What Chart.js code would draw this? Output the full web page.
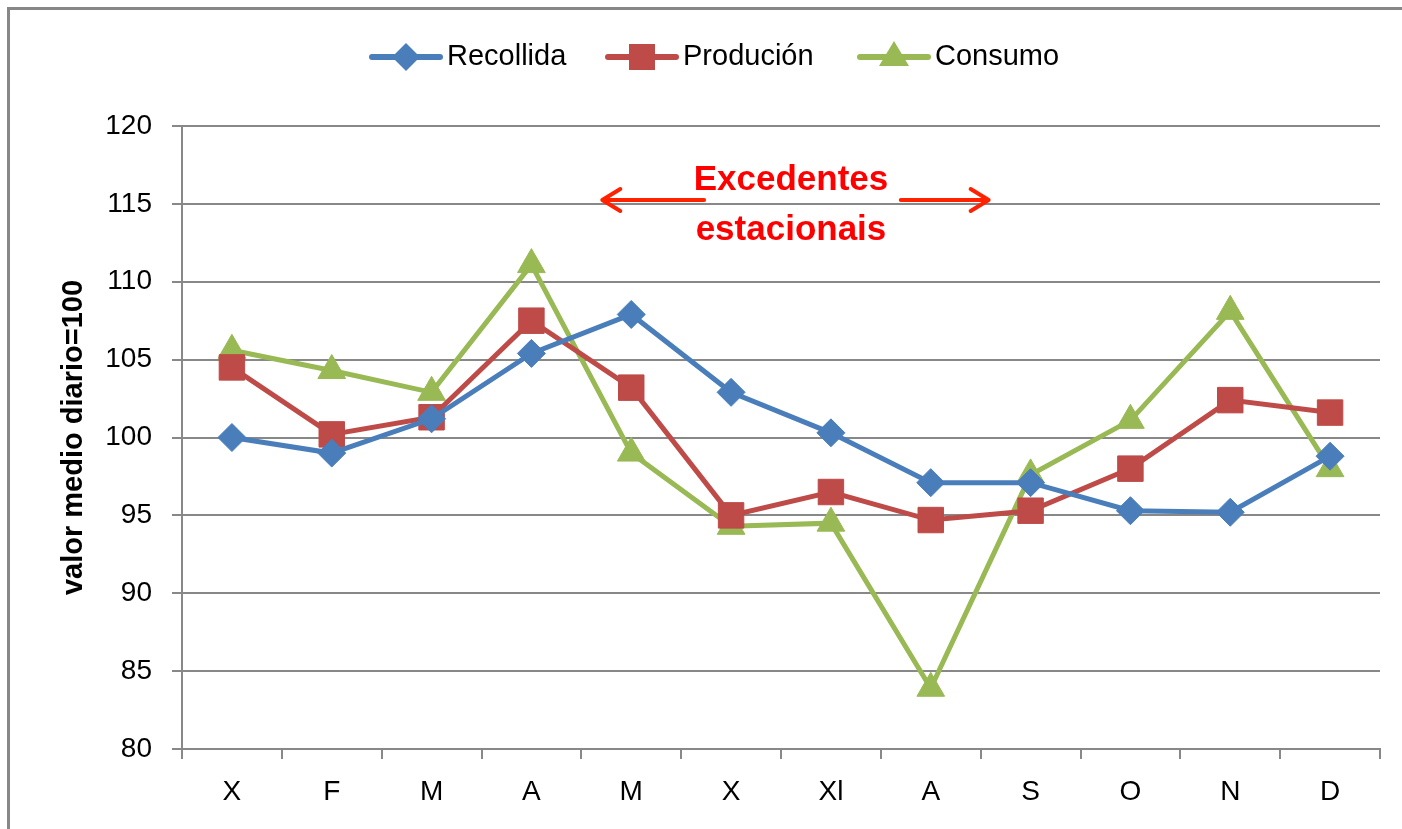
<!DOCTYPE html>
<html>
<head>
<meta charset="utf-8">
<script src="https://cdn.jsdelivr.net/npm/chart.js@4.4.0/dist/chart.umd.min.js"></script>
<style>
  html, body { margin: 0; padding: 0; background: #fff; }
  #wrap { width: 1402px; height: 829px; }
</style>
</head>
<body>
<div id="wrap"><canvas id="grafico"></canvas></div>
<script>
// datos
const meses = ['X', 'F', 'M', 'A', 'M', 'X', 'Xl', 'A', 'S', 'O', 'N', 'D'];
const recollida = [100.0, 99.0, 101.2, 105.4, 107.9, 102.9, 100.3, 97.1, 97.1, 95.3, 95.2, 98.8];
const producion = [104.5, 100.2, 101.3, 107.5, 103.2, 95.0, 96.5, 94.7, 95.3, 98.0, 102.4, 101.6];
const consumo = [105.6, 104.3, 102.9, 111.1, 99.0, 94.3, 94.5, 83.9, 97.6, 101.1, 108.1, 98.0];
const ticksY = [80, 85, 90, 95, 100, 105, 110, 115, 120];

// anotación: posicións en unidades das escalas (índice de categoría, valor)
const textoAnotacion = ['Excedentes', 'estacionais'];
const frechaEsquerda = [3.71, 4.73];
const frechaDereita = [6.70, 7.58];
const centroTexto = 5.6;
const valorFrecha = 115.25;
const valoresTexto = [116.5, 113.3];

const azul = '#4A7EBB';
const vermello = '#BE4B48';
const verde = '#98B954';
const fonte = '"Liberation Sans", Arial, sans-serif';

const marco = {
  id: 'marco',
  beforeDraw(chart) {
    const ctx = chart.ctx;
    ctx.save();
    ctx.strokeStyle = '#878787';
    ctx.lineWidth = 3;
    ctx.strokeRect(8.5, 8.5, chart.width + 20, chart.height + 20);
    ctx.restore();
  }
};

function debuxaMarcador(ctx, estilo, x, y, cor) {
  ctx.fillStyle = cor;
  ctx.beginPath();
  if (estilo === 'rectRot') {
    ctx.moveTo(x, y - 14); ctx.lineTo(x + 14, y); ctx.lineTo(x, y + 14); ctx.lineTo(x - 14, y);
  } else if (estilo === 'rect') {
    ctx.rect(x - 13, y - 13, 26, 26);
  } else {
    ctx.moveTo(x, y - 16); ctx.lineTo(x + 15, y + 9); ctx.lineTo(x - 15, y + 9);
  }
  ctx.closePath();
  ctx.fill();
}

const lenda = {
  id: 'lenda',
  afterDraw(chart) {
    const ctx = chart.ctx;
    const items = [372, 608, 860];
    ctx.save();
    chart.data.datasets.forEach((ds, i) => {
      const x = items[i];
      const y = 57;
      ctx.strokeStyle = ds.borderColor;
      ctx.lineWidth = 6;
      ctx.lineCap = 'round';
      ctx.beginPath();
      ctx.moveTo(x, y);
      ctx.lineTo(x + 68, y);
      ctx.stroke();
      debuxaMarcador(ctx, ds.pointStyle, x + 34, y, ds.borderColor);
      ctx.fillStyle = '#000';
      ctx.font = '29px ' + fonte;
      ctx.textBaseline = 'middle';
      ctx.textAlign = 'left';
      ctx.fillText(ds.label, x + 75, y);
    });
    ctx.restore();
  }
};

const anotacion = {
  id: 'anotacion',
  afterDraw(chart) {
    const ctx = chart.ctx;
    const sx = chart.scales.x;
    const sy = chart.scales.y;
    const yF = sy.getPixelForValue(valorFrecha);
    ctx.save();
    ctx.strokeStyle = '#FF2200';
    ctx.lineWidth = 4;
    ctx.lineCap = 'round';
    ctx.lineJoin = 'round';
    const esq0 = sx.getPixelForValue(frechaEsquerda[0]);
    const esq1 = sx.getPixelForValue(frechaEsquerda[1]);
    const der0 = sx.getPixelForValue(frechaDereita[0]);
    const der1 = sx.getPixelForValue(frechaDereita[1]);
    ctx.beginPath();
    ctx.moveTo(esq1, yF); ctx.lineTo(esq0, yF);
    ctx.moveTo(esq0 + 18, yF - 11); ctx.lineTo(esq0, yF); ctx.lineTo(esq0 + 18, yF + 11);
    ctx.moveTo(der0, yF); ctx.lineTo(der1, yF);
    ctx.moveTo(der1 - 18, yF - 11); ctx.lineTo(der1, yF); ctx.lineTo(der1 - 18, yF + 11);
    ctx.stroke();
    ctx.fillStyle = '#FF0000';
    ctx.font = 'bold 35px ' + fonte;
    ctx.textAlign = 'center';
    ctx.textBaseline = 'middle';
    const cx = sx.getPixelForValue(centroTexto);
    textoAnotacion.forEach((t, i) => {
      ctx.fillText(t, cx, sy.getPixelForValue(valoresTexto[i]));
    });
    ctx.restore();
  }
};

const serie = (label, data, cor, estilo, radio) => ({
  label: label,
  data: data,
  borderColor: cor,
  backgroundColor: cor,
  borderWidth: 5,
  pointStyle: estilo,
  pointRadius: radio,
  pointHoverRadius: radio,
  pointBorderWidth: 1,
  tension: 0,
  clip: false
});

new Chart(document.getElementById('grafico'), {
  type: 'line',
  data: {
    labels: meses,
    datasets: [
      serie('Recollida', recollida, azul, 'rectRot', 14),
      serie('Produción', producion, vermello, 'rect', 18),
      serie('Consumo', consumo, verde, 'triangle', 16)
    ]
  },
  options: {
    responsive: true,
    maintainAspectRatio: false,
    animation: false,
    layout: { padding: { top: 126, right: 22, left: 57, bottom: 0 } },
    plugins: {
      legend: { display: false },
      tooltip: { enabled: false }
    },
    scales: {
      x: {
        offset: true,
        afterFit(scale) { scale.height = 80; },
        grid: {
          offset: true,
          drawOnChartArea: false,
          drawTicks: true,
          tickLength: 10,
          color: '#888',
          lineWidth: 2
        },
        border: { color: '#888', width: 2 },
        ticks: {
          color: '#000',
          padding: 16,
          font: { family: fonte, size: 28 },
          maxRotation: 0
        }
      },
      y: {
        min: 80,
        max: 120,
        afterFit(scale) { scale.width = 125; },
        afterBuildTicks(scale) { scale.ticks = ticksY.map(v => ({ value: v })); },
        grid: {
          color: '#888',
          lineWidth: 2,
          tickLength: 10
        },
        border: { color: '#888', width: 2 },
        ticks: {
          color: '#000',
          padding: 20,
          font: { family: fonte, size: 28 }
        },
        title: {
          display: true,
          text: 'valor medio diario=100',
          color: '#000',
          padding: { top: 0, bottom: 0 },
          font: { family: fonte, size: 29, weight: 'bold' }
        }
      }
    }
  },
  plugins: [marco, lenda, anotacion]
});
</script>
</body>
</html>
